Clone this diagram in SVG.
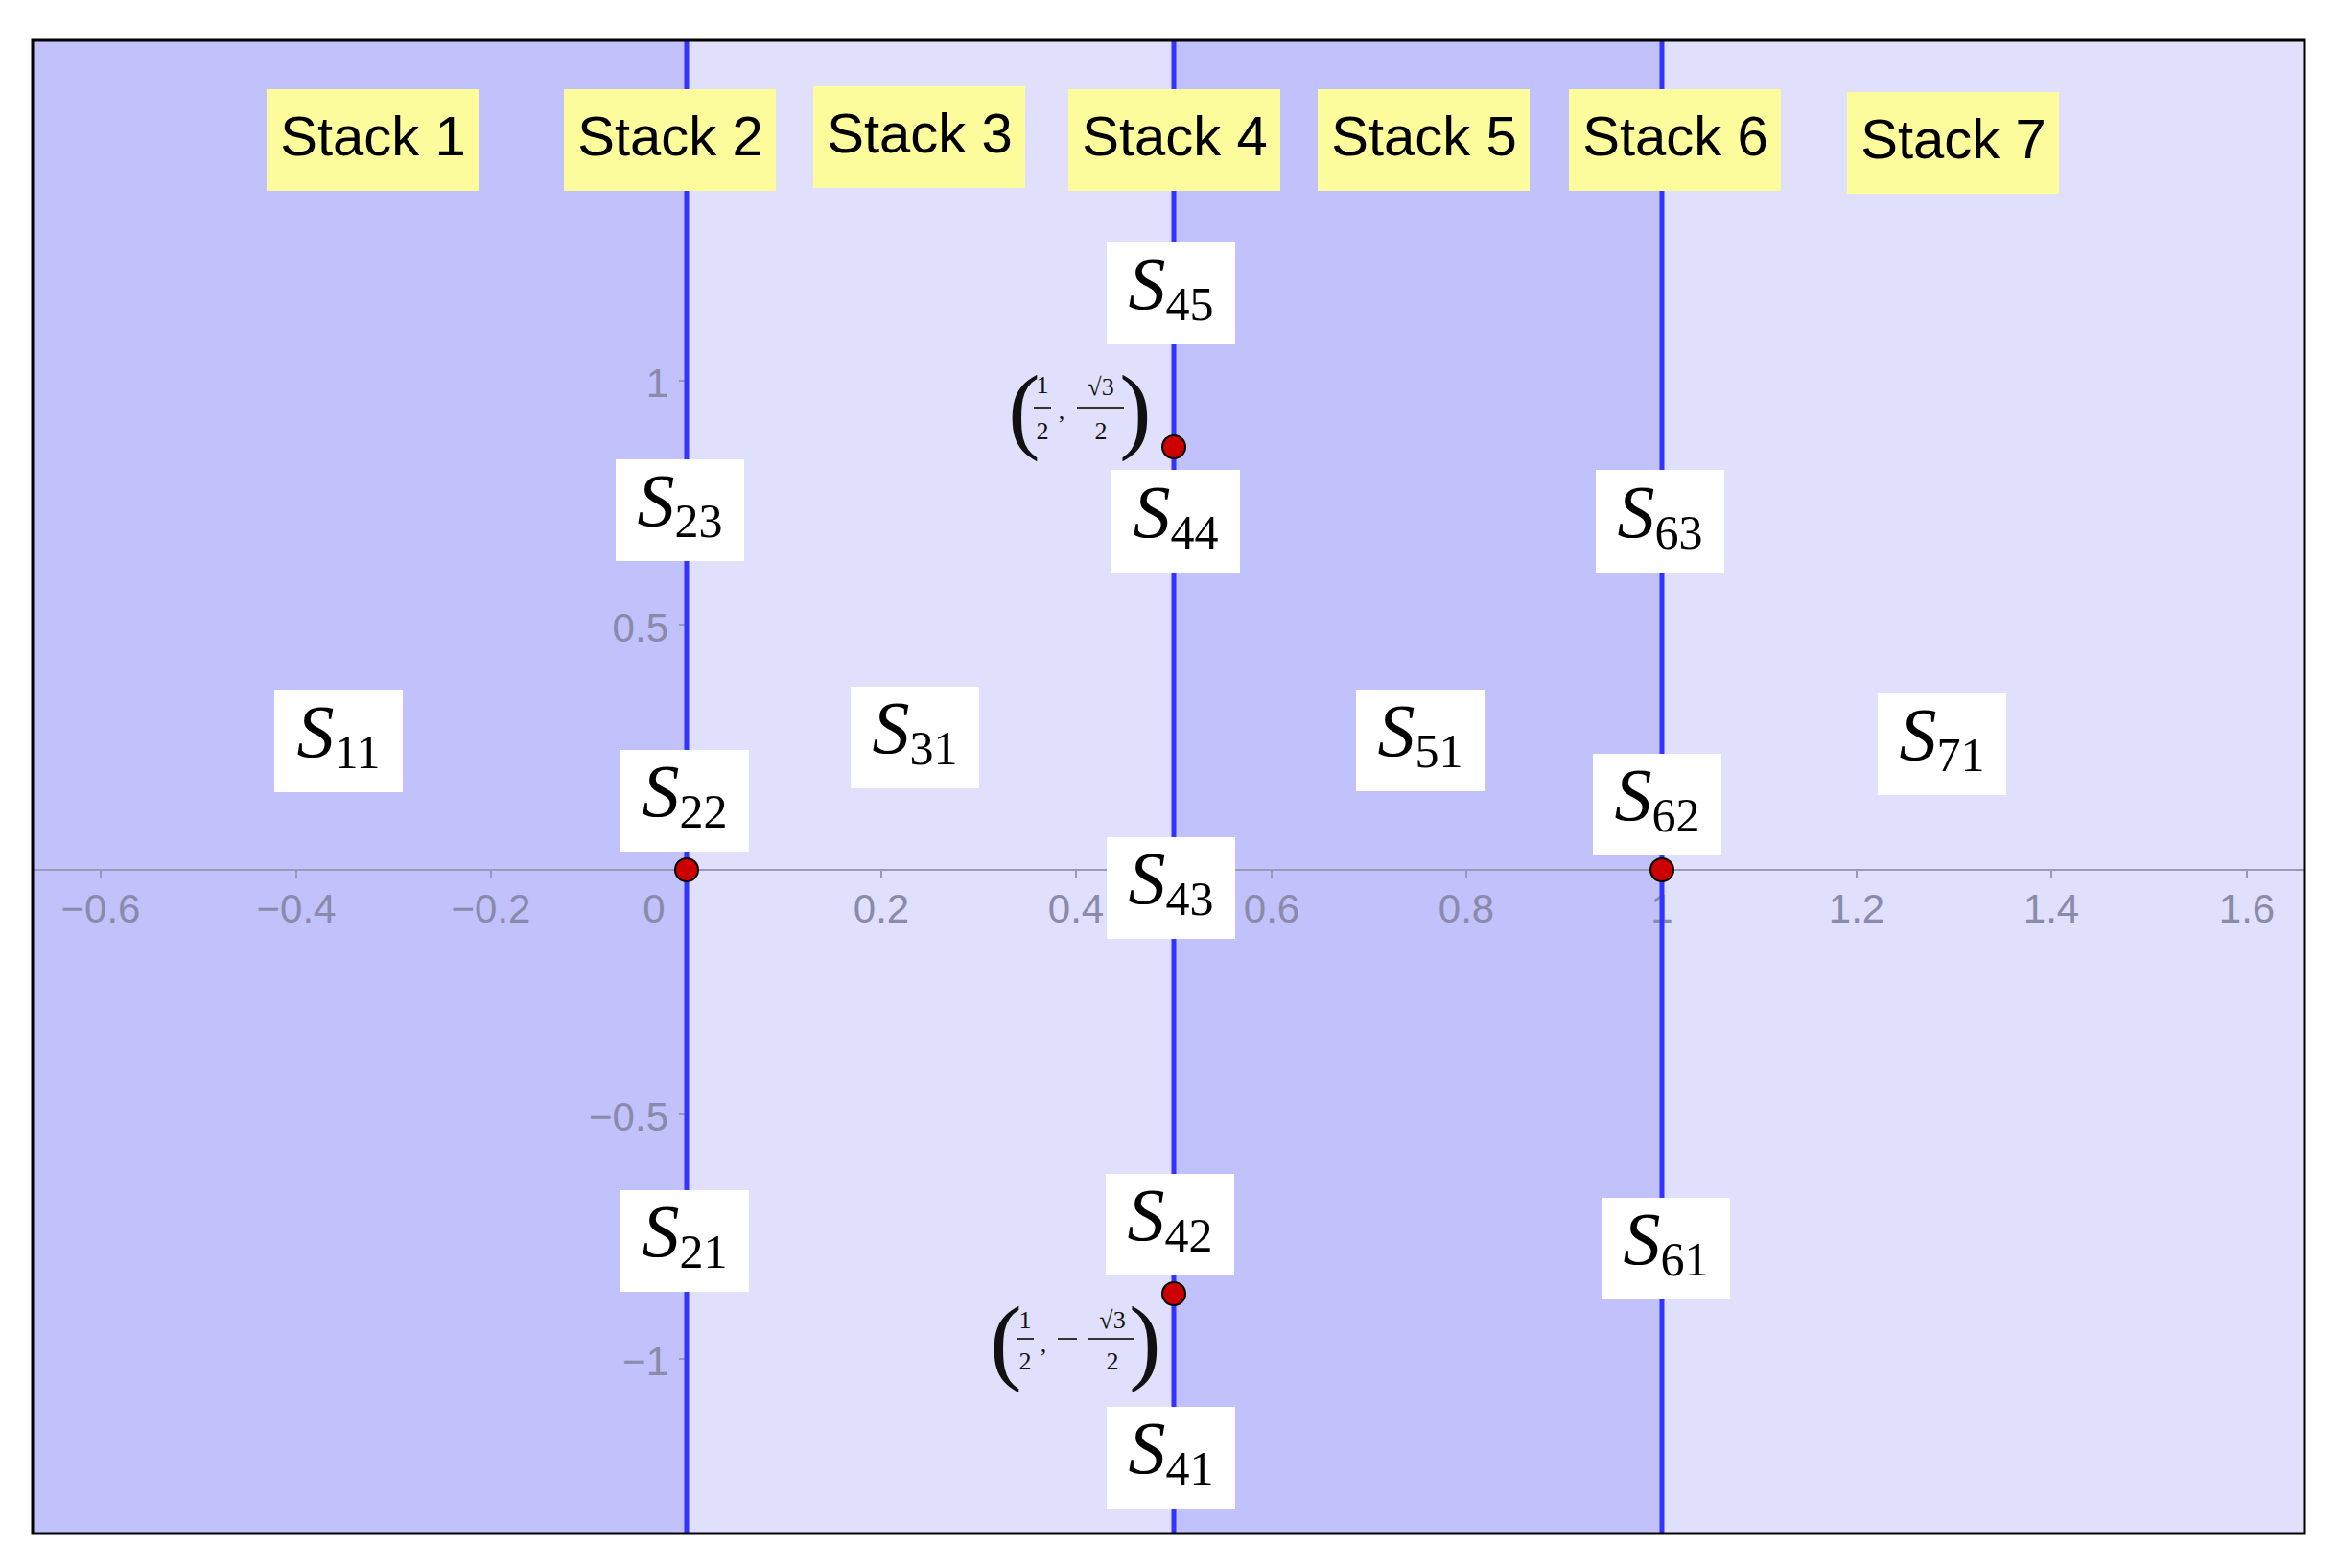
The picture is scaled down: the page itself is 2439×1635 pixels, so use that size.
<svg xmlns="http://www.w3.org/2000/svg" width="2439" height="1635" viewBox="0 0 2439 1635">
<style>
.stk{fill:#fcfc9c}
.stt{font-family:"Liberation Sans",Arial,sans-serif;font-size:58px;fill:#000;text-anchor:middle}
.sb{fill:#fff}
.st{font-family:"Liberation Serif","Times New Roman",serif;font-size:78px;font-style:italic;fill:#000;text-anchor:middle}
.sub{font-style:normal;font-size:50px}
.ax{font-family:"Liberation Sans",Arial,sans-serif;font-size:42px;fill:#8a8aaa}
.m{font-family:"Liberation Serif","Times New Roman",serif;fill:#111;text-anchor:middle}
.vl{stroke:#3333ff;stroke-width:5}
.pt{fill:#cc0000;stroke:#000;stroke-width:2}
</style>
<rect width="2439" height="1635" fill="#fff"/>
<rect x="34" y="42" width="682" height="1557" fill="#c1c1fb"/>
<rect x="716" y="42" width="508" height="1557" fill="#e0e0fd"/>
<rect x="1224" y="42" width="509" height="1557" fill="#c1c1fb"/>
<rect x="1733" y="42" width="670" height="1557" fill="#e0e0fd"/>
<g id="axes" stroke="#9a9ab8" stroke-width="2">
<line x1="34" y1="907" x2="2403" y2="907"/>
<path d="M105 907v8M309 907v8M512 907v8M919 907v8M1122 907v8M1326 907v8M1529 907v8M1936 907v8M2139 907v8M2343 907v8M716 397h-8M716 652h-8M716 1162h-8M716 1417h-8"/>
</g>
<g class="ax">
<text x="105" y="962" text-anchor="middle">−0.6</text>
<text x="309" y="962" text-anchor="middle">−0.4</text>
<text x="512" y="962" text-anchor="middle">−0.2</text>
<text x="682" y="962" text-anchor="middle">0</text>
<text x="919" y="962" text-anchor="middle">0.2</text>
<text x="1122" y="962" text-anchor="middle">0.4</text>
<text x="1326" y="962" text-anchor="middle">0.6</text>
<text x="1529" y="962" text-anchor="middle">0.8</text>
<text x="1733" y="962" text-anchor="middle">1</text>
<text x="1936" y="962" text-anchor="middle">1.2</text>
<text x="2139" y="962" text-anchor="middle">1.4</text>
<text x="2343" y="962" text-anchor="middle">1.6</text>
<text x="697" y="414" text-anchor="end">1</text>
<text x="697" y="669" text-anchor="end">0.5</text>
<text x="697" y="1179" text-anchor="end">−0.5</text>
<text x="697" y="1434" text-anchor="end">−1</text>
</g>
<g id="connectors">
<line class="vl" x1="716" y1="42" x2="716" y2="1599"/>
<line class="vl" x1="1224" y1="42" x2="1224" y2="1599"/>
<line class="vl" x1="1733" y1="42" x2="1733" y2="1599"/>
</g>
<g id="stacks">
<g id="stack1"><rect class="stk" x="278" y="93" width="221" height="106"/><text class="stt" x="389" y="162">Stack 1</text></g>
<g id="stack2"><rect class="stk" x="588" y="93" width="221" height="106"/><text class="stt" x="699" y="162">Stack 2</text></g>
<g id="stack3"><rect class="stk" x="848" y="90" width="221" height="106"/><text class="stt" x="959" y="159">Stack 3</text></g>
<g id="stack4"><rect class="stk" x="1114" y="93" width="221" height="106"/><text class="stt" x="1225" y="162">Stack 4</text></g>
<g id="stack5"><rect class="stk" x="1374" y="93" width="221" height="106"/><text class="stt" x="1485" y="162">Stack 5</text></g>
<g id="stack6"><rect class="stk" x="1636" y="93" width="221" height="106"/><text class="stt" x="1747" y="162">Stack 6</text></g>
<g id="stack7"><rect class="stk" x="1926" y="96" width="221" height="106"/><text class="stt" x="2037" y="165">Stack 7</text></g>
</g>
<g id="cells">
<g id="S45"><rect class="sb" x="1154" y="252" width="134" height="107"/><text class="st" x="1221" y="322">S<tspan class="sub" dy="12">45</tspan></text></g>
<g id="S23"><rect class="sb" x="642" y="479" width="134" height="106"/><text class="st" x="709" y="548">S<tspan class="sub" dy="12">23</tspan></text></g>
<g id="S44"><rect class="sb" x="1159" y="490" width="134" height="107"/><text class="st" x="1226" y="560">S<tspan class="sub" dy="12">44</tspan></text></g>
<g id="S63"><rect class="sb" x="1664" y="490" width="134" height="107"/><text class="st" x="1731" y="560">S<tspan class="sub" dy="12">63</tspan></text></g>
<g id="S11"><rect class="sb" x="286" y="720" width="134" height="106"/><text class="st" x="353" y="789">S<tspan class="sub" dy="12">11</tspan></text></g>
<g id="S31"><rect class="sb" x="887" y="716" width="134" height="106"/><text class="st" x="954" y="785">S<tspan class="sub" dy="12">31</tspan></text></g>
<g id="S51"><rect class="sb" x="1414" y="719" width="134" height="106"/><text class="st" x="1481" y="788">S<tspan class="sub" dy="12">51</tspan></text></g>
<g id="S71"><rect class="sb" x="1958" y="723" width="134" height="106"/><text class="st" x="2025" y="792">S<tspan class="sub" dy="12">71</tspan></text></g>
<g id="S22"><rect class="sb" x="647" y="782" width="134" height="106"/><text class="st" x="714" y="851">S<tspan class="sub" dy="12">22</tspan></text></g>
<g id="S62"><rect class="sb" x="1661" y="786" width="134" height="106"/><text class="st" x="1728" y="855">S<tspan class="sub" dy="12">62</tspan></text></g>
<g id="S43"><rect class="sb" x="1154" y="873" width="134" height="106"/><text class="st" x="1221" y="942">S<tspan class="sub" dy="12">43</tspan></text></g>
<g id="S21"><rect class="sb" x="647" y="1241" width="134" height="106"/><text class="st" x="714" y="1310">S<tspan class="sub" dy="12">21</tspan></text></g>
<g id="S42"><rect class="sb" x="1153" y="1224" width="134" height="106"/><text class="st" x="1220" y="1293">S<tspan class="sub" dy="12">42</tspan></text></g>
<g id="S61"><rect class="sb" x="1670" y="1249" width="134" height="106"/><text class="st" x="1737" y="1318">S<tspan class="sub" dy="12">61</tspan></text></g>
<g id="S41"><rect class="sb" x="1154" y="1467" width="134" height="106"/><text class="st" x="1221" y="1536">S<tspan class="sub" dy="12">41</tspan></text></g>
</g>
<g id="points">
<circle class="pt" cx="716" cy="907" r="12"/>
<circle class="pt" cx="1733" cy="907" r="12"/>
<circle class="pt" cx="1224" cy="466" r="12"/>
<circle class="pt" cx="1224" cy="1349" r="12"/>
</g>
<g id="coord1" class="m">
<text x="1068" y="460" font-size="100" font-weight="100">(</text>
<text x="1087" y="410" font-size="26">1</text>
<line x1="1078" y1="425" x2="1096" y2="425" stroke="#333" stroke-width="2"/>
<text x="1087" y="458" font-size="26">2</text>
<text x="1107" y="437" font-size="26">,</text>
<text x="1148" y="412" font-size="26">√3</text>
<line x1="1123" y1="425" x2="1172" y2="425" stroke="#333" stroke-width="2"/>
<text x="1148" y="458" font-size="26">2</text>
<text x="1184" y="460" font-size="100">)</text>
</g>
<g id="coord2" class="m">
<text x="1049" y="1431" font-size="100">(</text>
<text x="1069" y="1385" font-size="26">1</text>
<line x1="1060" y1="1396" x2="1078" y2="1396" stroke="#333" stroke-width="2"/>
<text x="1069" y="1428" font-size="26">2</text>
<text x="1088" y="1410" font-size="26">,</text>
<line x1="1103" y1="1396" x2="1123" y2="1396" stroke="#333" stroke-width="2"/>
<text x="1160" y="1385" font-size="26">√3</text>
<line x1="1135" y1="1396" x2="1183" y2="1396" stroke="#333" stroke-width="2"/>
<text x="1160" y="1428" font-size="26">2</text>
<text x="1194" y="1431" font-size="100">)</text>
</g>
<rect x="34" y="42" width="2369" height="1557" fill="none" stroke="#000" stroke-width="3"/>
</svg>
